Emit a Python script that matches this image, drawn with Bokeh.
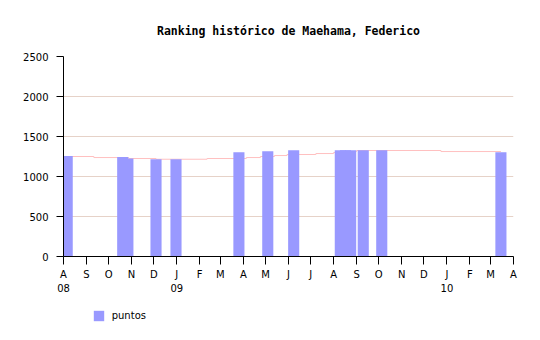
import pandas as pd
from bokeh.plotting import figure
from bokeh.layouts import column
from bokeh.models import LinearAxis, FixedTicker, Legend, LegendItem, Range1d
from bokeh.embed import file_html
from bokeh.resources import INLINE

title_text = "Ranking histórico de Maehama, Federico"

# bar series "puntos"
series_name = "puntos"
bar_dates = ["2008-08-06", "2008-10-20", "2008-10-27", "2008-12-04", "2008-12-31",
             "2009-03-26", "2009-05-04", "2009-06-08", "2009-08-10", "2009-08-17",
             "2009-08-24", "2009-09-10", "2009-10-05", "2010-03-15"]
bar_points = [1257, 1245, 1225, 1216, 1216,
              1304, 1316, 1329, 1329, 1329,
              1329, 1329, 1329, 1304]

# pink step line (average)
avg_dates = ["2008-08-01", "2008-09-11", "2008-10-28", "2008-12-04", "2009-02-11",
             "2009-04-05", "2009-04-24", "2009-05-13", "2009-05-30", "2009-07-08",
             "2009-08-01", "2009-08-16", "2009-09-01", "2009-12-24", "2010-03-15"]
avg_points = [1250, 1237, 1225, 1216, 1225,
              1237, 1250, 1262, 1275, 1287,
              1300, 1312, 1325, 1312, 1312]

month_labels = ["A", "S", "O", "N", "D", "J", "F", "M", "A", "M", "J",
                "J", "A", "S", "O", "N", "D", "J", "F", "M", "A"]
year_tick_dates = ["2008-08-01", "2009-01-01", "2010-01-01"]
year_labels = ["08", "09", "10"]
y_ticks = [0, 500, 1000, 1500, 2000, 2500]

origin = pd.Timestamp("2008-08-01")
end = pd.Timestamp("2010-04-01")


def days(ds):
    return [int((pd.Timestamp(d) - origin).days) for d in ds]


month_ticks = days(pd.date_range(origin, end, freq="MS"))
year_ticks = days(year_tick_dates)

FONT = "DejaVu Sans"
BAR_COLOR = "#9999ff"

p = figure(width=540, height=300, output_backend="svg", toolbar_location=None,
           x_range=Range1d(0, days([end])[0]), y_range=Range1d(0, 2500),
           min_border_left=63, min_border_right=27, min_border_top=56,
           min_border_bottom=44)
p.outline_line_color = None
p.background_fill_color = "white"
p.border_fill_color = "white"

p.title.text = title_text
p.title.align = "center"
p.title.text_font = "DejaVu Sans Mono"
p.title.text_font_size = "11.5px"
p.title.text_font_style = "bold"
p.title.text_color = "black"
p.title.standoff = 38

# grid
p.xgrid.visible = False
p.ygrid.ticker = FixedTicker(ticks=y_ticks)
p.ygrid.grid_line_color = "#e6d2c8"

# step line behind bars
p.step(days(avg_dates), avg_points, mode="after", line_color="#ffc0c0", line_width=1)

# bars (drawn latest-first so earlier bars sit on top)
bx = days(bar_dates)[::-1]
by = bar_points[::-1]
bars = p.vbar(x=bx, top=by, bottom=0, width=15, fill_color=BAR_COLOR,
              line_color=None)

# y axis
ya = p.yaxis[0]
ya.ticker = FixedTicker(ticks=y_ticks)
ya.major_tick_out = 7
ya.major_tick_in = 0
ya.minor_tick_line_color = None
ya.axis_line_color = "black"
ya.major_tick_line_color = "black"
ya.major_label_text_font = FONT
ya.major_label_text_font_size = "10px"
ya.major_label_text_color = "black"
ya.major_label_standoff = 8

# x axis: month letters
xa = p.xaxis[0]
xa.ticker = FixedTicker(ticks=month_ticks)
xa.major_label_overrides = {t: l for t, l in zip(month_ticks, month_labels)}
xa.major_tick_out = 8
xa.major_tick_in = 0
xa.minor_tick_line_color = None
xa.axis_line_color = "black"
xa.major_tick_line_color = "black"
xa.major_label_text_font = FONT
xa.major_label_text_font_size = "10px"
xa.major_label_text_color = "black"
xa.major_label_standoff = 4

# second x axis: years
yr = LinearAxis(ticker=FixedTicker(ticks=year_ticks),
                major_label_overrides={t: l for t, l in zip(year_ticks, year_labels)},
                axis_line_color=None, major_tick_line_color=None,
                minor_tick_line_color=None, major_tick_out=0, major_tick_in=0,
                major_label_standoff=1, major_label_text_font=FONT,
                major_label_text_font_size="10px", major_label_text_color="black")
p.add_layout(yr, "below")

# legend strip below the chart (its frame is aligned with the chart's frame)
lg = figure(width=540, height=40, output_backend="svg", toolbar_location=None,
            x_range=Range1d(0, 1), y_range=Range1d(0, 1),
            min_border=0, min_border_left=0, min_border_right=0,
            min_border_top=0, min_border_bottom=0)
lg.axis.visible = False
lg.grid.visible = False
lg.outline_line_color = None
lg.border_fill_color = "white"
# zero-height bar: only provides the legend swatch style
swatch = lg.vbar(x=[0], top=[0], bottom=0, width=0, fill_color=BAR_COLOR,
                 line_color=None)
legend = Legend(items=[LegendItem(label=series_name, renderers=[swatch])],
                location=(28.7, 18.3), padding=0, margin=0, glyph_width=13,
                glyph_height=13, label_height=13, label_standoff=7,
                border_line_color=None, background_fill_alpha=0,
                label_text_font=FONT, label_text_font_size="10px",
                label_text_color="black")
lg.add_layout(legend, "center")

layout = column(p, lg, spacing=0)
open("out.html", "w").write(file_html(layout, INLINE))
